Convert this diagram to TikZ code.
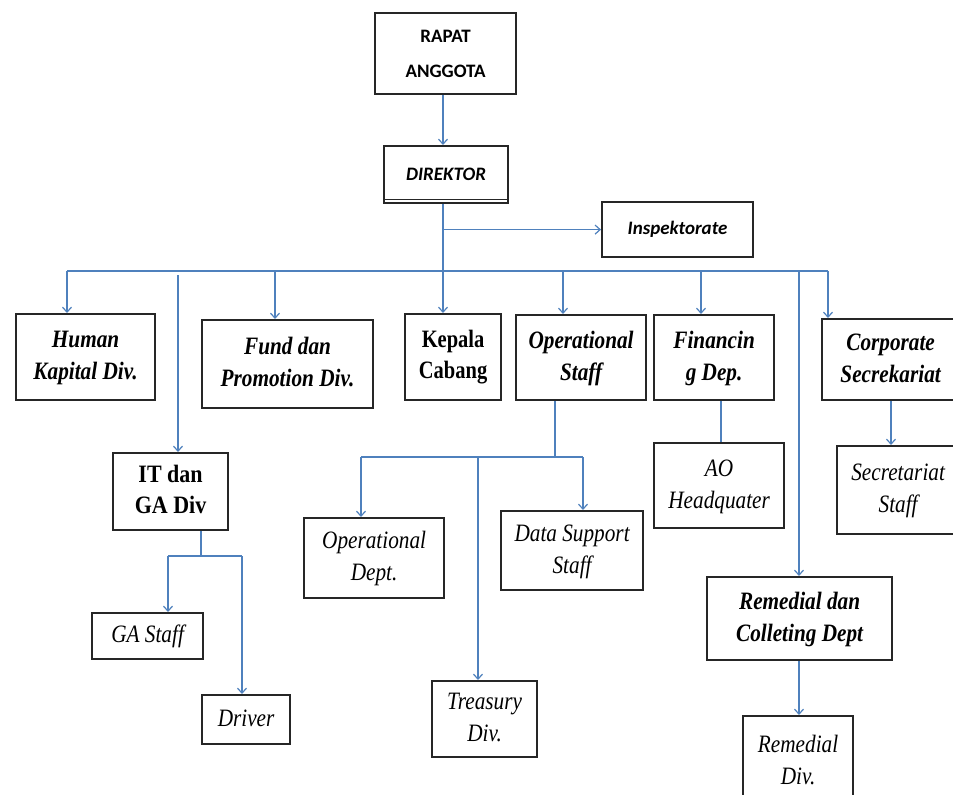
\documentclass[tikz,border=0pt]{standalone}
\usepackage{fontspec}
\usepackage{graphicx}
\setmainfont{Liberation Serif}
\newfontfamily\calfont{Carlito}
\usetikzlibrary{arrows.meta}
\definecolor{lnblue}{RGB}{79,129,189}
\newcommand{\tx}[2][0.85]{\scalebox{#1}[1]{\begin{tabular}{@{}c@{}}#2\end{tabular}}}
\tikzset{
  box/.style={draw=black!85, line width=2.2pt, rectangle, inner sep=0pt, anchor=north west, align=center},
  cal/.style={font=\calfont\fontsize{19}{35}\selectfont\bfseries},
  calit/.style={font=\calfont\fontsize{19}{35}\selectfont\bfseries\itshape},
  tbi/.style={font=\fontsize{25}{32}\selectfont\bfseries\itshape},
  tb/.style={font=\fontsize{25}{31}\selectfont\bfseries},
  ti/.style={font=\fontsize{25}{32}\selectfont\itshape},
  ln/.style={draw=lnblue, line width=1.7pt},
  arr/.style={ln, -{Straight Barb[length=5pt,width=9pt,line width=1.2pt]}}
}
\begin{document}
\begin{tikzpicture}[x=1pt,y=-1pt]
\useasboundingbox (0,0) rectangle (953,795);
\fill[white] (0,0) rectangle (953,795);
% nodes
\node[box,cal, minimum width=141pt, minimum height=81pt] (ra) at (374,12) {RAPAT\\ANGGOTA};
\node[box,calit, minimum width=124pt, minimum height=57pt] (dir) at (383,145) {DIREKTOR};
\draw[black!85, line width=1.2pt] ([yshift=5pt]dir.south west) -- ([yshift=5pt]dir.south east);
\node[box,calit, minimum width=151pt, minimum height=55pt] (insp) at (601,201) {Inspektorate};
\node[box,tbi, minimum width=139pt, minimum height=86pt] (hk) at (15,313) {\tx{Human\\Kapital Div.}};
\node[box,tbi, minimum width=171pt, minimum height=88pt] (fp) at (201,319) {\tx{Fund dan\\Promotion Div.}};
\node[box,tb, minimum width=96pt, minimum height=86pt] (kc) at (404,313) {\tx[0.82]{Kepala\\Cabang}};
\node[box,tbi, minimum width=130pt, minimum height=85pt] (os) at (515,314) {\tx{Operational\\Staff}};
\node[box,tbi, minimum width=120pt, minimum height=85pt] (fd) at (653,314) {\tx{Financin\\g Dep.}};
\node[box,tbi, minimum width=137pt, minimum height=81pt] (cs) at (821,318) {\tx{Corporate\\Secrekariat}};
\node[box,tb, minimum width=115pt, minimum height=77pt] (it) at (112,452) {\tx[0.88]{IT dan\\GA Div}};
\node[box,ti, minimum width=140pt, minimum height=80pt] (od) at (303,517) {\tx{Operational\\Dept.}};
\node[box,ti, minimum width=142pt, minimum height=79pt] (ds) at (500,510) {\tx{Data Support\\Staff}};
\node[box,ti, minimum width=105pt, minimum height=76pt] (tr) at (431,680) {\tx{Treasury\\Div.}};
\node[box,ti, minimum width=130pt, minimum height=85pt] (ao) at (653,442) {\tx{AO\\Headquater}};
\node[box,ti, minimum width=122pt, minimum height=88pt] (ss) at (836,445) {\tx{Secretariat\\Staff}};
\node[box,tbi, minimum width=185pt, minimum height=83pt] (rcd) at (706,576) {\tx{Remedial dan\\Colleting Dept}};
\node[box,ti, minimum width=110pt, minimum height=92pt] (rd) at (742,715) {\tx{Remedial\\Div.}};
\node[box,ti, minimum width=111pt, minimum height=46pt] (ga) at (91,612) {\tx{GA Staff}};
\node[box,ti, minimum width=88pt, minimum height=49pt] (dr) at (201,694) {\tx{Driver}};
% coordinates
\coordinate (bL) at (67,271);
\coordinate (bR) at (828,271);
\coordinate (bIT) at (178,275);
\coordinate (bFP) at (275,271);
\coordinate (bOS) at (563,271);
\coordinate (bFD) at (701,271);
\coordinate (bRC) at (799,271);
\coordinate (oJ) at (555,457);
\coordinate (oL) at (361,457);
\coordinate (oM) at (478,457);
\coordinate (oR) at (583,457);
\coordinate (fX) at (721,0);
\coordinate (sX) at (891,0);
\coordinate (rX) at (799,0);
\coordinate (dX) at (443,0);
\coordinate (iJ) at (201,556);
\coordinate (iL) at (168,556);
\coordinate (iR) at (242,556);
% connectors
\draw[arr] (ra.south -| dX) -- (dir.north -| dX);
\draw[arr] (dir.south -| dX) -- (kc.north -| dX);
\draw[arr] (insp.west -| dX) -- (insp.west);
\draw[ln] (bL) -- (bR);
\draw[arr] (bL) -- (bL |- hk.north);
\draw[arr] (bIT) -- (bIT |- it.north);
\draw[arr] (bFP) -- (bFP |- fp.north);
\draw[arr] (bOS) -- (bOS |- os.north);
\draw[arr] (bFD) -- (bFD |- fd.north);
\draw[arr] (bRC) -- (bRC |- rcd.north);
\draw[arr] (bR) -- (bR |- cs.north);
\draw[ln] (os.south -| oJ) -- (oJ);
\draw[ln] (oL) -- (oR);
\draw[arr] (oL) -- (oL |- od.north);
\draw[arr] (oM) -- (oM |- tr.north);
\draw[arr] (oR) -- (oR |- ds.north);
\draw[ln] (fd.south -| fX) -- (ao.north -| fX);
\draw[arr] (cs.south -| sX) -- (ss.north -| sX);
\draw[arr] (rcd.south -| rX) -- (rd.north -| rX);
\draw[ln] (it.south -| iJ) -- (iJ);
\draw[ln] (iL) -- (iR);
\draw[arr] (iL) -- (iL |- ga.north);
\draw[arr] (iR) -- (iR |- dr.north);
\end{tikzpicture}
\end{document}
